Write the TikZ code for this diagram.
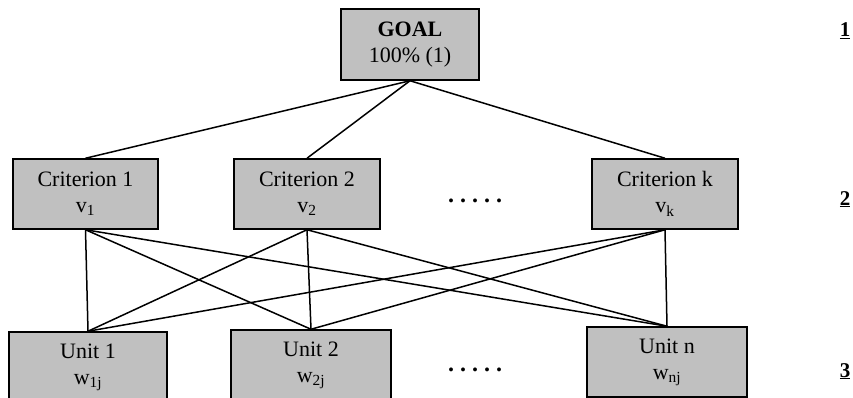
\documentclass[tikz,border=0pt]{standalone}
\usepackage{fontspec}
\setmainfont{Liberation Serif}
\definecolor{boxgray}{RGB}{192,192,192}
\begin{document}
\begin{tikzpicture}[x=1pt,y=-1pt,
  box/.style={draw=black, line width=1.5pt, fill=boxgray, rectangle, align=center,
    inner sep=0pt, font=\fontsize{22}{26}\selectfont},
  link/.style={line width=1.5pt},
  lvl/.style={font=\fontsize{21}{24}\selectfont\bfseries, inner sep=0pt},
  dots/.style={font=\fontsize{24}{26}\selectfont\bfseries, inner sep=0pt}]
\useasboundingbox (0,0) rectangle (853,398);
\begin{scope}
\clip (0,0) rectangle (853,398);
\node[box, minimum width=138pt, minimum height=71pt] (goal) at (410,44.5) {\textbf{GOAL}\\100\% (1)};
\node[box, minimum width=145pt, minimum height=70pt] (c1) at (85.5,194) {Criterion 1\\v\textsubscript{1}};
\node[box, minimum width=146pt, minimum height=70pt] (c2) at (307,194) {Criterion 2\\v\textsubscript{2}};
\node[box, minimum width=146pt, minimum height=70pt] (ck) at (665,194) {Criterion k\\v\textsubscript{k}};
\node[box, minimum width=158pt, minimum height=70pt] (u1) at (88,367) {Unit 1\\w\textsubscript{1j}};
\node[box, minimum width=160pt, minimum height=70pt] (u2) at (311,365) {Unit 2\\w\textsubscript{2j}};
\node[box, minimum width=160pt, minimum height=70pt] (un) at (667,362) {Unit n\\w\textsubscript{nj}};
\end{scope}
\draw[link] (goal.south) -- (c1.north);
\draw[link] (goal.south) -- (c2.north);
\draw[link] (goal.south) -- (ck.north);
\foreach \c in {c1,c2,ck}{
  \foreach \u in {u1,u2,un}{
    \draw[link] (\c.south) -- (\u.north);
  }
}
\node[dots, anchor=base] (d1) at (475,202) {.\hspace{6pt}.\hspace{6pt}.\hspace{6pt}.\hspace{6pt}.};
\node[dots, anchor=base] (d2) at (475,371) {.\hspace{6pt}.\hspace{6pt}.\hspace{6pt}.\hspace{6pt}.};
\node[lvl, anchor=base] (l1) at (845,37) {\underline{1}};
\node[lvl, anchor=base] (l2) at (845,205) {\underline{2}};
\node[lvl, anchor=base] (l3) at (845,377) {\underline{3}};
\end{tikzpicture}
\end{document}
